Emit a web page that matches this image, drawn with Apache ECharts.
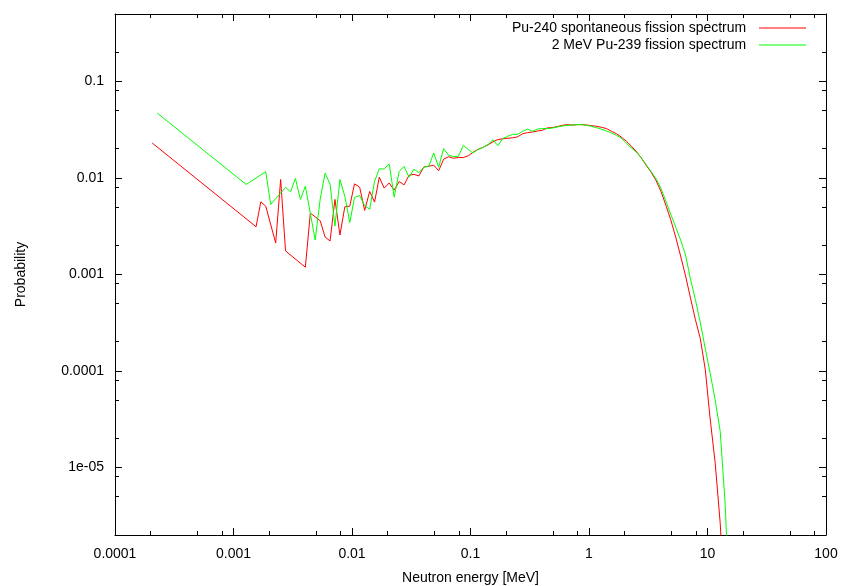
<!DOCTYPE html>
<html><head><meta charset="utf-8">
<script src="https://cdn.jsdelivr.net/npm/echarts@6/dist/echarts.min.js"></script>
<style>html,body{margin:0;padding:0;background:#fff}#c{width:845px;height:586px}</style>
</head><body><div id="c"></div>
<script>
// Neutron energy grid [MeV] (shared by both spectra)
const energy = [
  2.06e-4, 2.27e-4, 2.50e-4, 2.75e-4, 3.03e-4, 3.33e-4, 3.67e-4, 4.04e-4, 4.45e-4, 4.89e-4, 5.39e-4, 5.93e-4, 6.53e-4, 7.18e-4, 7.91e-4, 8.70e-4, 9.58e-4,
  1.05e-3, 1.16e-3, 1.28e-3, 1.41e-3, 1.55e-3, 1.70e-3, 1.87e-3, 2.06e-3, 2.27e-3, 2.50e-3, 2.75e-3, 3.03e-3, 3.33e-3, 3.67e-3, 4.04e-3, 4.45e-3, 4.89e-3, 5.39e-3, 5.93e-3, 6.53e-3, 7.18e-3, 7.91e-3, 8.70e-3, 9.58e-3,
  0.0105, 0.0116, 0.0128, 0.0141, 0.0155, 0.0170, 0.0187, 0.0206, 0.0227, 0.0250, 0.0275, 0.0303, 0.0333, 0.0367, 0.0404, 0.0445, 0.0489, 0.0539, 0.0593, 0.0653, 0.0718, 0.0791, 0.0870, 0.0958,
  0.105, 0.116, 0.128, 0.141, 0.155, 0.170, 0.187, 0.206, 0.227, 0.250, 0.275, 0.303, 0.333, 0.367, 0.404, 0.445, 0.489, 0.539, 0.593, 0.653, 0.718, 0.791, 0.870, 0.958,
  1.05, 1.16, 1.28, 1.41, 1.55, 1.70, 1.87, 2.06, 2.27, 2.50, 2.75, 3.03, 3.33, 3.67, 4.04, 4.45, 4.89, 5.39, 5.93, 6.53, 7.18, 7.91, 8.70, 9.58,
  10.5, 11.6, 12.8, 14.1, 15.5
];
// Pu-240 spontaneous fission spectrum (null = empty bin)
const pu240 = [
  0.02305, null, null, null, null, null, null, null, null, null, null, null, null, null, null, null, null,
  null, null, null, null, 0.003125, 0.005664, 0.005113, null, 0.00212, 0.00965, 0.001753, null, null, null, 0.00119, 0.004328, null, 0.003605, 0.002445, 0.002224, 0.005996, 0.002565, 0.005028, 0.005113,
  0.00869, 0.008035, 0.004616, 0.007253, 0.005623, 0.01019, 0.007845, 0.008878, 0.007482, 0.009201, 0.008485, 0.01069, 0.01089, 0.01051, 0.01302, 0.01324, 0.01356, 0.0119, 0.01564, 0.0166, 0.01602, 0.01629, 0.01629, 0.017,
  0.01846, 0.01983, 0.0208, 0.02208, 0.02371, 0.02498, 0.02547, 0.02577, 0.02608, 0.02671, 0.02868, 0.02951, 0.02993, 0.03066, 0.03117, 0.03308, 0.03324, 0.03404, 0.03511, 0.0357, 0.03536, 0.0357, 0.0357, 0.03536,
  0.03486, 0.03428, 0.03348, 0.03246, 0.03044, 0.02882, 0.02658, 0.02416, 0.02146, 0.01891, 0.01629, 0.01356, 0.01156, 0.00949, 0.007305, 0.005236, 0.003709, 0.002445, 0.001557, 0.000967, 0.000573, 0.00034, 0.0002162, 0.0001034,
  0.000033, 0.00001132, 0.00000265, 0.0000003, null
];
// 2 MeV Pu-239 fission spectrum (null = empty bin)
const pu239 = [
  null, 0.04704, null, null, null, null, null, null, null, null, null, null, null, null, null, null, null,
  null, null, 0.008566, null, null, null, 0.01162, 0.005324, null, null, 0.007978, 0.007218, 0.00988, 0.005996, 0.008228, null, 0.002277, 0.006039, 0.01121, 0.00863, 0.003178, 0.00965, 0.006454, 0.003453,
  0.006303, 0.006563, 0.005173, 0.004738, 0.009201, 0.01242, 0.01242, 0.01398, 0.006333, 0.01167, 0.01318, 0.01019, 0.01233, 0.01134, 0.01293, 0.01324, 0.01816, 0.01293, 0.02017, 0.0172, 0.01668, 0.0168, 0.02182, 0.01969,
  0.01816, 0.01983, 0.0208, 0.02234, 0.02486, 0.02157, 0.02559, 0.02703, 0.02834, 0.02834, 0.03044, 0.03215, 0.03044, 0.03215, 0.03246, 0.03246, 0.03293, 0.03372, 0.03453, 0.03511, 0.03536, 0.0357, 0.0357, 0.03511,
  0.03428, 0.03324, 0.03192, 0.03066, 0.02923, 0.02768, 0.02596, 0.02305, 0.02065, 0.01861, 0.01629, 0.01379, 0.01175, 0.00988, 0.007845, 0.005758, 0.004227, 0.003102, 0.002277, 0.001594, 0.000901, 0.0005465, 0.0003162, 0.0001703,
  0.0000963, 0.0000506, 0.00002366, 0.00000417, 0.00000027
];
const seriesNames = ['Pu-240 spontaneous fission spectrum', '2 MeV Pu-239 fission spectrum'];
const xTickLabels = ['0.0001', '0.001', '0.01', '0.1', '1', '10', '100'];
const yTickLabels = ['1e-05', '0.0001', '0.001', '0.01', '0.1'];

const FONT = "'Liberation Sans', Arial, Helvetica, sans-serif";
const X_MIN = 1e-4, X_MAX = 100, Y_MIN = 2e-6, Y_MAX = 0.5;

function pairs(ys) {
  const out = [];
  for (let i = 0; i < energy.length; i++) if (ys[i] != null) out.push([energy[i], ys[i]]);
  return out;
}
// minor tick positions (2, 5, 8 within each decade), axis decoration only
function minorTicks(lo, hi) {
  const out = [];
  for (let d = -7; d <= 3; d++) for (const m of [2, 5, 8]) {
    const v = m * Math.pow(10, d);
    if (v > lo * 1.0001 && v < hi * 0.9999) out.push(v);
  }
  return out;
}
const xMinor = minorTicks(X_MIN, X_MAX);
const yMinor = minorTicks(Y_MIN, Y_MAX);

function xLabel(v) {
  const e = Math.round(Math.log10(v));
  const s = xTickLabels[e + 4];
  return (s !== undefined && Math.abs(Math.log10(v) - e) < 1e-6) ? s : '';
}
function yLabel(v) {
  const e = Math.round(Math.log10(v));
  const s = yTickLabels[e + 5];
  return (s !== undefined && Math.abs(Math.log10(v) - e) < 1e-6) ? s : '';
}
const crisp = v => Math.round(v - 0.5) + 0.5;
function renderMinorX(params, api) {
  const cs = params.coordSys;
  const x = crisp(api.coord([api.value(0), 0.01])[0]);
  const b = cs.y + cs.height, t = cs.y;
  return { type: 'group', children: [
    { type: 'line', shape: { x1: x, y1: b, x2: x, y2: b - 4 }, style: { stroke: '#000', lineWidth: 1 } },
    { type: 'line', shape: { x1: x, y1: t, x2: x, y2: t + 4 }, style: { stroke: '#000', lineWidth: 1 } }
  ] };
}
function renderMinorY(params, api) {
  const cs = params.coordSys;
  const y = crisp(api.coord([1, api.value(1)])[1]);
  const l = cs.x, r = cs.x + cs.width;
  return { type: 'group', children: [
    { type: 'line', shape: { x1: l, y1: y, x2: l + 4, y2: y }, style: { stroke: '#000', lineWidth: 1 } },
    { type: 'line', shape: { x1: r, y1: y, x2: r - 4, y2: y }, style: { stroke: '#000', lineWidth: 1 } }
  ] };
}

const axisLineStyle = { show: true, lineStyle: { color: '#000', width: 1 } };
const tickStyle = { show: true, inside: true, length: 7, lineStyle: { color: '#000', width: 1 } };
const textBase = { color: '#000', fontSize: 14, fontFamily: FONT };

function legendFor(name, top) {
  return { data: [{ name: name, icon: 'rect' }], right: 39, top: top, orient: 'vertical', align: 'right',
    itemWidth: 47, itemHeight: 1, selectedMode: false, formatter: n => n + '  ',
    textStyle: textBase, padding: 0 };
}

const chart = echarts.init(document.getElementById('c'), null, { renderer: 'canvas' });
chart.setOption({
  animation: false,
  backgroundColor: '#fff',
  textStyle: { fontFamily: FONT },
  grid: { left: 115, right: 19, top: 14, bottom: 51, outerBoundsMode: 'none', containLabel: false },
  legend: [legendFor(seriesNames[0], 21), legendFor(seriesNames[1], 38)],
  xAxis: [
    { type: 'log', logBase: 10, min: X_MIN, max: X_MAX, position: 'bottom',
      axisLine: axisLineStyle, axisTick: tickStyle, splitLine: { show: false },
      axisLabel: Object.assign({ margin: 12, formatter: xLabel }, textBase),
      name: 'Neutron energy [MeV]', nameLocation: 'middle', nameGap: 36, nameTextStyle: textBase },
    { type: 'log', logBase: 10, min: X_MIN, max: X_MAX, position: 'top',
      axisLine: axisLineStyle, axisTick: tickStyle, splitLine: { show: false }, axisLabel: { show: false } }
  ],
  yAxis: [
    { type: 'log', logBase: 10, min: Y_MIN, max: Y_MAX, position: 'left',
      axisLine: axisLineStyle, axisTick: tickStyle, splitLine: { show: false },
      axisLabel: Object.assign({ margin: 11, formatter: yLabel, showMinLabel: false, showMaxLabel: false }, textBase),
      name: 'Probability', nameLocation: 'middle', nameGap: 87, nameTextStyle: textBase },
    { type: 'log', logBase: 10, min: Y_MIN, max: Y_MAX, position: 'right',
      axisLine: axisLineStyle, axisTick: tickStyle, splitLine: { show: false }, axisLabel: { show: false } }
  ],
  series: [
    { type: 'custom', name: 'xminor', silent: true, xAxisIndex: 0, yAxisIndex: 0,
      renderItem: renderMinorX, data: xMinor.map(v => [v, 0.01]), encode: { x: 0, y: 1 }, z: 1 },
    { type: 'custom', name: 'yminor', silent: true, xAxisIndex: 0, yAxisIndex: 0,
      renderItem: renderMinorY, data: yMinor.map(v => [1, v]), encode: { x: 0, y: 1 }, z: 1 },
    { type: 'line', name: seriesNames[0], data: pairs(pu240), xAxisIndex: 0, yAxisIndex: 0,
      showSymbol: false, symbol: 'none', clip: true,
      lineStyle: { color: '#ff0000', width: 1 }, itemStyle: { color: '#ff0000' }, z: 2 },
    { type: 'line', name: seriesNames[1], data: pairs(pu239), xAxisIndex: 0, yAxisIndex: 0,
      showSymbol: false, symbol: 'none', clip: true,
      lineStyle: { color: '#00ff00', width: 1 }, itemStyle: { color: '#00ff00' }, z: 3 }
  ]
});
</script>
</body></html>
